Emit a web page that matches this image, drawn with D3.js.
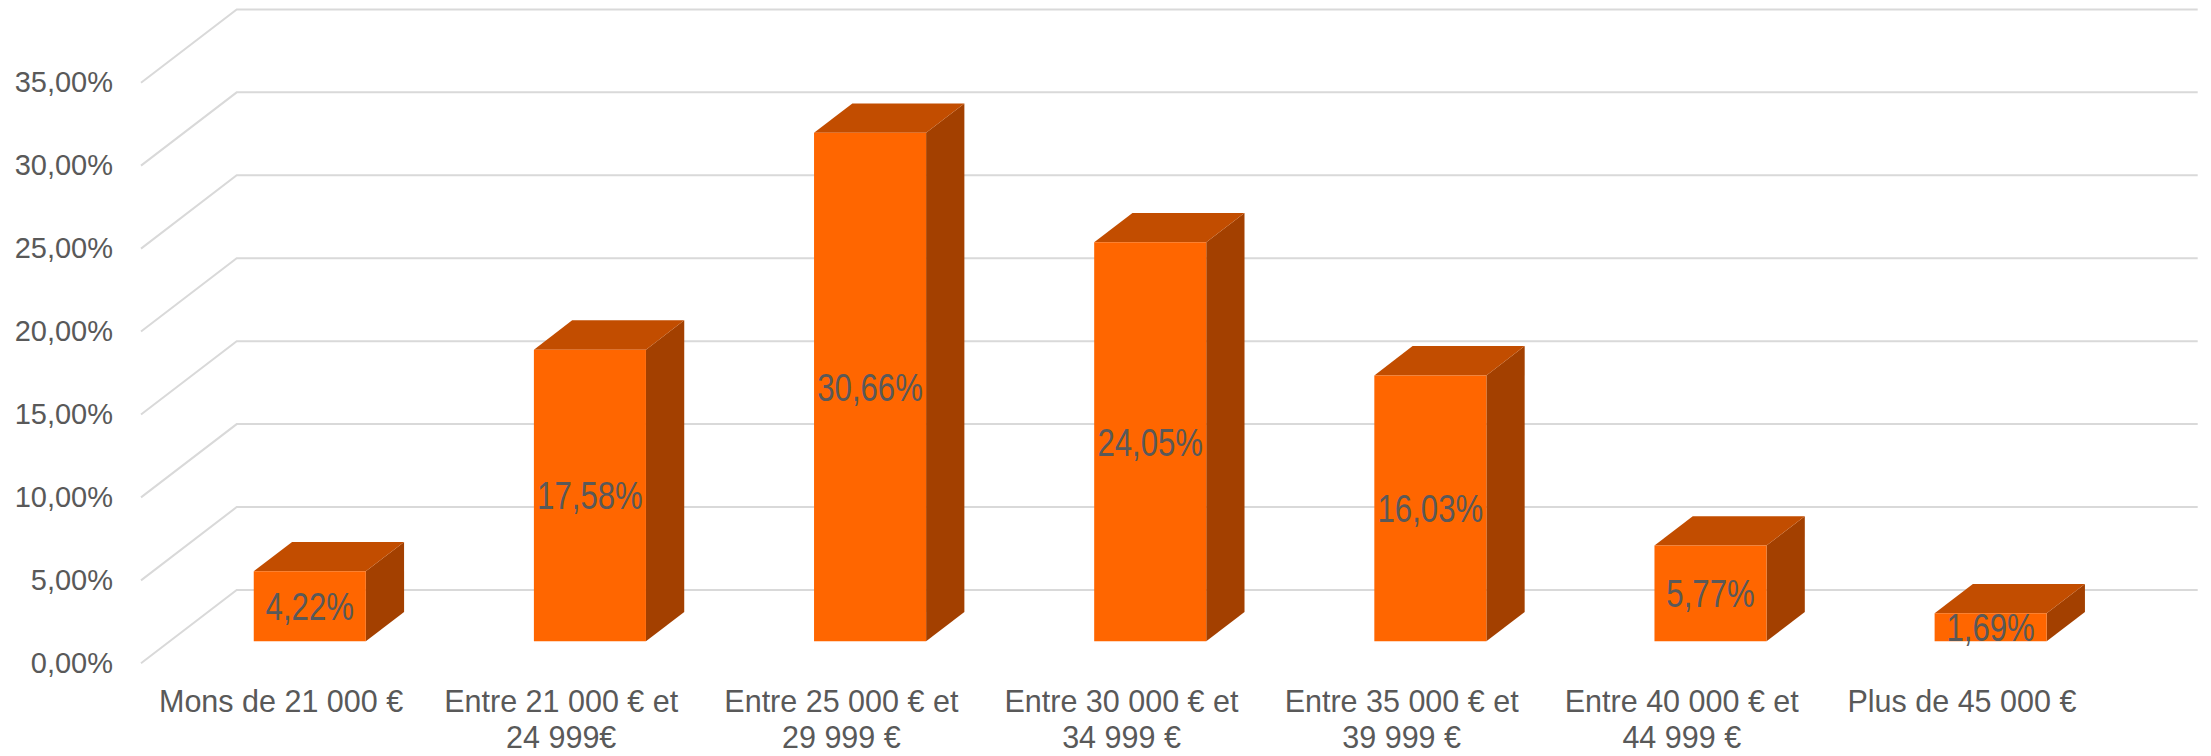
<!DOCTYPE html>
<html>
<head>
<meta charset="utf-8">
<script src="https://cdn.jsdelivr.net/npm/d3@7"></script>
<style>
  html, body { margin: 0; padding: 0; background: #ffffff; }
  svg { display: block; }
</style>
</head>
<body>
<svg id="chart" width="2211" height="756"></svg>
<script>
// ---- data ----
const categories = [
  "Mons de 21 000 €",
  "Entre 21 000 € et\n24 999€",
  "Entre 25 000 € et\n29 999 €",
  "Entre 30 000 € et\n34 999 €",
  "Entre 35 000 € et\n39 999 €",
  "Entre 40 000 € et\n44 999 €",
  "Plus de 45 000 €"
];
const values = [0.0422, 0.1758, 0.3066, 0.2405, 0.1603, 0.0577, 0.0169];
const valueLabels = ["4,22%", "17,58%", "30,66%", "24,05%", "16,03%", "5,77%", "1,69%"];
const yTicks = [0, 0.05, 0.10, 0.15, 0.20, 0.25, 0.30, 0.35];
const yTickLabels = ["0,00%", "5,00%", "10,00%", "15,00%", "20,00%", "25,00%", "30,00%", "35,00%"];

// ---- layout ----
const W = 2211, H = 756;
const floorFrontLeft = 141, floorFrontRight = 2102;
const yBottomFront = 663.3, yTopFront = 82.7;
const DX = 95.7, DY = -73.3;          // full depth offset
const barD0 = 0.3, barD1 = 0.7;       // bar depth range (fraction)

const COLOR_TEXT = "#595959";
const COLOR_GRID = "#d9d9d9";
const COLOR_FRONT = "#ff6600";
const COLOR_TOP = "#c24d00";
const COLOR_SIDE = "#a34000";

const svg = d3.select("#chart");

const x = d3.scaleBand()
  .domain(categories)
  .range([floorFrontLeft, floorFrontRight])
  .paddingInner(0.6)
  .paddingOuter(0.3);

const xOuter = d3.scaleBand()
  .domain(categories)
  .range([floorFrontLeft, floorFrontRight])
  .padding(0);

const y = d3.scaleLinear()
  .domain([0, 0.35])
  .range([yBottomFront, yTopFront]);

// projection: front-plane coordinates + depth fraction
const P = (px, py, d) => [px + d * DX, py + d * DY];
const poly = pts => "M" + pts.map(p => p.join(",")).join("L") + "Z";

// ---- gridlines (left wall diagonals + back wall) ----
const grid = svg.append("g").attr("class", "grid");
yTicks.forEach(t => {
  const f = P(floorFrontLeft, y(t), 0);
  const b = P(floorFrontLeft, y(t), 1);
  const e = P(floorFrontRight, y(t), 1);
  grid.append("path")
    .attr("d", `M${f[0]},${f[1]}L${b[0]},${b[1]}L${e[0]},${e[1]}`)
    .attr("fill", "none")
    .attr("stroke", COLOR_GRID)
    .attr("stroke-width", 2);
});

// ---- y axis labels ----
const yAxis = d3.axisLeft(y)
  .tickValues(yTicks)
  .tickFormat((d, i) => yTickLabels[i])
  .tickSize(0)
  .tickPadding(28);
const yg = svg.append("g")
  .attr("transform", `translate(${floorFrontLeft},0)`)
  .call(yAxis);
yg.select(".domain").remove();
yg.selectAll("text")
  .attr("fill", COLOR_TEXT)
  .style("font-family", "'Liberation Sans', Arial, sans-serif")
  .style("font-size", "29px");

// ---- bars ----
const bars = svg.append("g").attr("class", "bars");
categories.forEach((c, i) => {
  const v = values[i];
  const x0 = x(c), x1 = x(c) + x.bandwidth();
  const yb = y(0), yt = y(v);
  const g = bars.append("g");
  const f = [P(x0, yb, barD0), P(x1, yb, barD0), P(x1, yt, barD0), P(x0, yt, barD0)];
  const t = [P(x0, yt, barD0), P(x1, yt, barD0), P(x1, yt, barD1), P(x0, yt, barD1)];
  const s = [P(x1, yb, barD0), P(x1, yb, barD1), P(x1, yt, barD1), P(x1, yt, barD0)];
  g.append("path").attr("d", poly(s)).attr("fill", COLOR_SIDE);
  g.append("path").attr("d", poly(t)).attr("fill", COLOR_TOP);
  g.append("path").attr("d", poly(f)).attr("fill", COLOR_FRONT);
});

// ---- data labels ----
const labels = svg.append("g").attr("class", "labels");
categories.forEach((c, i) => {
  const v = values[i];
  const cx = x(c) + x.bandwidth() / 2;
  const cy = (y(0) + y(v)) / 2;
  const p = P(cx, cy, barD0);
  labels.append("text")
    .attr("transform", `translate(${p[0]},${p[1]}) scale(0.82,1)`)
    .attr("dy", "0.36em")
    .attr("text-anchor", "middle")
    .attr("fill", COLOR_TEXT)
    .style("font-family", "'Liberation Sans', Arial, sans-serif")
    .style("font-size", "38px")
    .text(valueLabels[i]);
});

// ---- category labels ----
const cat = svg.append("g").attr("class", "cats");
categories.forEach((c, i) => {
  const cx = xOuter(c) + xOuter.bandwidth() / 2;
  const lines = c.split("\n");
  const txt = cat.append("text")
    .attr("text-anchor", "middle")
    .attr("fill", COLOR_TEXT)
    .style("font-family", "'Liberation Sans', Arial, sans-serif")
    .style("font-size", "30.5px");
  lines.forEach((ln, j) => {
    txt.append("tspan")
      .attr("x", cx)
      .attr("y", 712.3 + j * 36)
      .text(ln);
  });
});
</script>
</body>
</html>
